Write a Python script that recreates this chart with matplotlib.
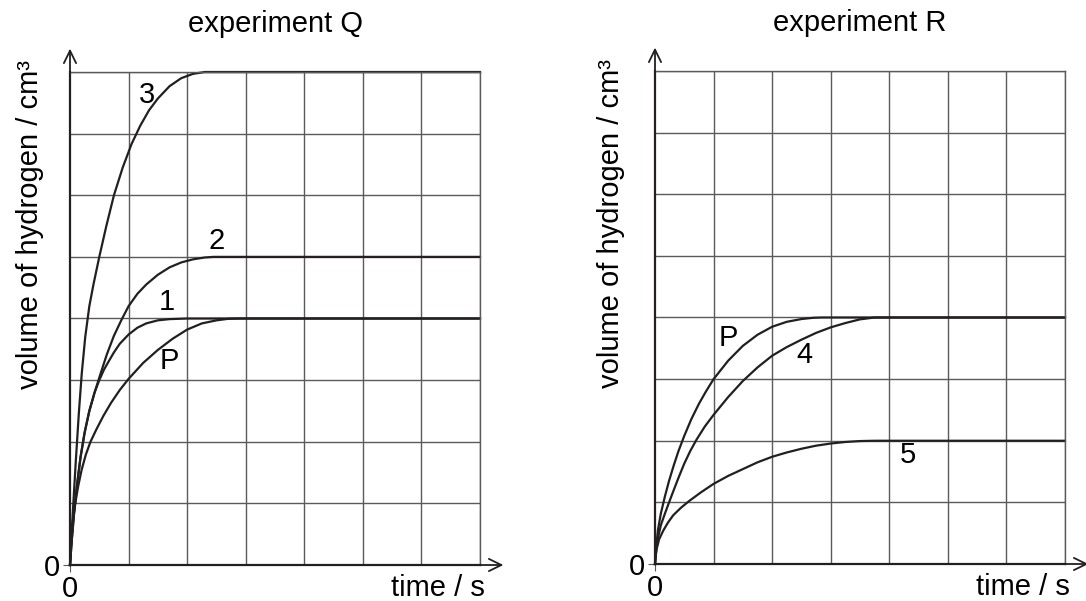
import matplotlib.pyplot as plt

plt.rcParams['font.family'] = ['Liberation Sans', 'DejaVu Sans']

# experiment Q (left), 7 x 8 squares
q3_t = [0, 0.03, 0.06, 0.1, 0.15, 0.2, 0.26, 0.33, 0.4, 0.5, 0.62, 0.75, 0.9, 1.05, 1.2, 1.35, 1.5,
        1.7, 1.9, 2.1, 2.3, 7]
q3_v = [0, 0.55, 1.05, 1.7, 2.45, 3.1, 3.7, 4.2, 4.55, 5.0, 5.5, 6.0, 6.45, 6.83, 7.13, 7.38, 7.57,
        7.77, 7.9, 7.97, 8, 8]

q2_t = [0, 0.03, 0.07, 0.12, 0.18, 0.25, 0.33, 0.42, 0.52, 0.63, 0.75, 0.88, 1.0, 1.15, 1.3, 1.5,
        1.7, 1.9, 2.1, 2.3, 2.45, 7]
q2_v = [0, 0.4, 0.85, 1.3, 1.75, 2.15, 2.5, 2.8, 3.1, 3.42, 3.72, 3.98, 4.2, 4.4, 4.55, 4.71,
        4.83, 4.91, 4.96, 4.99, 5, 5]

q1_t = [0, 0.03, 0.07, 0.12, 0.18, 0.25, 0.33, 0.42, 0.5, 0.58, 0.67, 0.75, 0.85, 1.0, 1.15, 1.3,
        1.5, 1.7, 2.0, 7]
q1_v = [0, 0.4, 0.85, 1.3, 1.75, 2.15, 2.5, 2.8, 3.0, 3.17, 3.32, 3.45, 3.59, 3.74, 3.85, 3.92,
        3.97, 3.99, 4, 4]

qp_t = [0, 0.02, 0.05, 0.09, 0.14, 0.2, 0.27, 0.35, 0.45, 0.57, 0.7, 0.85, 1.0, 1.25, 1.5, 1.75,
        2.0, 2.25, 2.5, 2.7, 2.88, 7]
qp_v = [0, 0.4, 0.72, 1.0, 1.28, 1.55, 1.79, 2.0, 2.2, 2.42, 2.63, 2.84, 3.02, 3.28, 3.49, 3.67,
        3.82, 3.92, 3.97, 3.995, 4, 4]

# experiment R (right)
rp_t = [0, 0.02, 0.05, 0.1, 0.17, 0.24, 0.32, 0.4, 0.5, 0.62, 0.75, 0.87, 1.0, 1.25, 1.5, 1.75,
        2.0, 2.25, 2.5, 2.7, 2.85, 7]
rp_v = [0, 0.28, 0.55, 0.82, 1.1, 1.35, 1.6, 1.83, 2.08, 2.35, 2.6, 2.8, 3.0, 3.3, 3.54, 3.72,
        3.85, 3.93, 3.975, 3.995, 4, 4]

r4_t = [0, 0.02, 0.05, 0.1, 0.17, 0.24, 0.32, 0.41, 0.5, 0.6, 0.71, 0.85, 1.0, 1.25, 1.5, 1.75,
        2.0, 2.25, 2.5, 2.75, 3.0, 3.25, 3.5, 3.75, 7]
r4_v = [0, 0.22, 0.42, 0.63, 0.82, 1.0, 1.2, 1.42, 1.63, 1.83, 2.02, 2.23, 2.42, 2.71, 2.97, 3.19,
        3.38, 3.52, 3.64, 3.75, 3.84, 3.91, 3.97, 4, 4]

r5_t = [0, 0.01, 0.03, 0.07, 0.14, 0.22, 0.31, 0.44, 0.58, 0.78, 1.0, 1.25, 1.5, 1.75, 2.0, 2.25,
        2.5, 2.75, 3.0, 3.25, 3.5, 3.75, 7]
r5_v = [0, 0.12, 0.25, 0.4, 0.54, 0.67, 0.79, 0.91, 1.02, 1.16, 1.3, 1.43, 1.54, 1.65, 1.74, 1.81,
        1.87, 1.92, 1.955, 1.98, 1.995, 2, 2]

# curve labels: (text, t, v)
q_labels = [("3", 1.31, 7.62), ("2", 2.5, 5.26), ("1", 1.65, 4.27), ("P", 1.69, 3.31)]
r_labels = [("P", 1.26, 3.67), ("4", 2.55, 3.39), ("5", 4.32, 1.77)]

n_cols = 7
n_rows = 8

line_col = "#231f20"
grid_col = "#5a5a5a"
fs = 21


def setup_panel(ax, title):
    ax.set_xlim(0, n_cols)
    ax.set_ylim(0, n_rows)
    # grid squares
    ax.set_xticks(range(1, n_cols + 1), minor=True)
    ax.set_yticks(range(1, n_rows + 1), minor=True)
    ax.grid(which="minor", color=grid_col, linewidth=1.0)
    ax.tick_params(which="minor", length=0)
    ax.set_xticks([0])
    ax.set_yticks([0])
    ax.set_xticklabels(["0"], fontsize=fs)
    ax.set_yticklabels(["0"], fontsize=fs)
    ax.tick_params(which="major", length=5, width=0.8, color=grid_col, pad=2)
    for side in ["top", "right"]:
        ax.spines[side].set_color(grid_col)
        ax.spines[side].set_linewidth(1.0)
    for side in ["left", "bottom"]:
        ax.spines[side].set_color(line_col)
        ax.spines[side].set_linewidth(1.6)
    # axis arrows
    arrow = dict(arrowstyle="->,head_length=0.45,head_width=0.22", lw=1.3,
                 color=line_col, shrinkA=0, shrinkB=0, mutation_scale=20)
    ax.annotate("", xy=(0, 8.38), xytext=(0, 0), arrowprops=arrow, annotation_clip=False)
    ax.annotate("", xy=(7.4, 0), xytext=(0, 0), arrowprops=arrow, annotation_clip=False)
    ax.text(0.5, 1.097, title, transform=ax.transAxes, ha="center", va="center", fontsize=fs)
    ax.text(1.012, -0.046, "time / s", transform=ax.transAxes, ha="right", va="center", fontsize=fs)


fig = plt.figure(figsize=(10.86, 6.01), dpi=100)
ax1 = fig.add_axes([70 / 1086, 36 / 601, 410 / 1086, 493 / 601])
ax2 = fig.add_axes([655 / 1086, 37 / 601, 410 / 1086, 493 / 601])

setup_panel(ax1, "experiment Q")
setup_panel(ax2, "experiment R")

ax1.text(-0.098, 0.69, "volume of hydrogen / cm³", transform=ax1.transAxes,
         rotation=90, ha="center", va="center", fontsize=fs)
ax2.text(-0.107, 0.69, "volume of hydrogen / cm³", transform=ax2.transAxes,
         rotation=90, ha="center", va="center", fontsize=fs)

for t, v in [(q3_t, q3_v), (q2_t, q2_v), (q1_t, q1_v), (qp_t, qp_v)]:
    ax1.plot(t, v, color=line_col, lw=1.6, clip_on=False, solid_joinstyle="round")
for t, v in [(rp_t, rp_v), (r4_t, r4_v), (r5_t, r5_v)]:
    ax2.plot(t, v, color=line_col, lw=1.6, clip_on=False, solid_joinstyle="round")

for s, t, v in q_labels:
    ax1.text(t, v, s, ha="center", va="center", fontsize=fs)
for s, t, v in r_labels:
    ax2.text(t, v, s, ha="center", va="center", fontsize=fs)

fig.savefig("out.png", dpi=100)
